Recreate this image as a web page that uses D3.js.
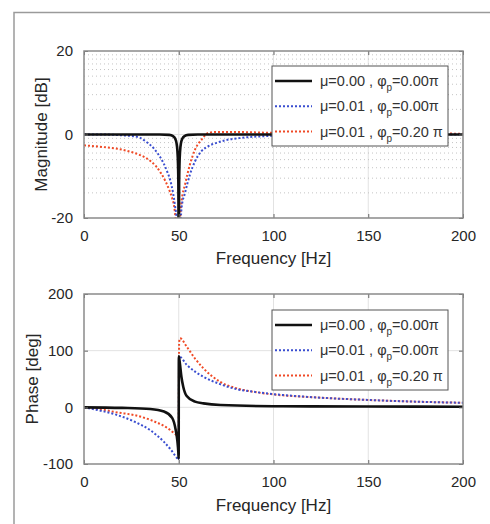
<!DOCTYPE html>
<html><head><meta charset="utf-8">
<script src="https://cdn.jsdelivr.net/npm/d3@7"></script>
<style>body{margin:0;background:#fff;}svg{display:block;}text{font-family:"Liberation Sans",Arial,sans-serif;}</style>
</head><body>
<script>
// ---------- data ----------
const xTicks = [0, 50, 100, 150, 200];
const magTicks = [-20, 0, 20];
const magMinorGrid = [-13.98, -10.46, -7.96, -6.02, -4.44, -3.10, -1.94, -0.92, 6.02, 9.54, 12.04, 13.98, 15.56, 16.90, 18.06, 19.08];
const phaseTicks = [-100, 0, 100, 200];
const seriesNames = ["μ=0.00 , φ|p|=0.00π", "μ=0.01 , φ|p|=0.00π", "μ=0.01 , φ|p|=0.20 π"];

// Magnitude [dB]
const magBlackF = [0, 40, 45, 47, 48, 48.8, 49.3, 49.6, 49.8, 50, 50.2, 50.4, 50.7, 51.2, 52, 53, 55, 60, 200];
const magBlackV = [0, 0, -0.1, -0.4, -0.9, -2, -4, -7, -12, -30, -12, -7, -4, -2, -0.9, -0.4, -0.1, 0, 0];
const magBlueF = [0, 10, 20, 26, 29.6, 33, 36.6, 39, 41.9, 44, 45.4, 47, 48, 49, 50, 51, 51.5, 53.3, 55.9, 58.6, 62, 65.6, 70, 74.4, 83, 95, 110, 130, 200];
const magBlueV = [0, 0, -0.2, -0.4, -0.8, -1.8, -3.2, -4.6, -6.8, -9, -10.8, -14, -17, -21, -35, -21, -17.5, -14, -9.6, -6.4, -4, -2.8, -2, -1.4, -0.8, -0.4, -0.2, 0, 0];
const magRedF = [0, 10, 17.6, 26.4, 30, 35.2, 38, 40.5, 43, 44.9, 46.5, 47.5, 48.3, 49.3, 50, 50.6, 51.5, 53.3, 55.9, 58.6, 62.1, 65.6, 70, 80, 100, 150, 200];
const magRedV = [-2.6, -3, -3.4, -4.4, -5, -6.4, -7.6, -9.2, -11.2, -13.2, -15.2, -17, -20, -25, -35, -22, -16, -12, -7.2, -3.6, -1.2, 0.4, 0.6, 0.6, 0.4, 0.3, 0.2];

// Phase [deg]
const phBlackF = [0, 20, 35, 42.2, 46.6, 48.4, 49.3, 49.8, 49.95, 50.05, 50.5, 51.4, 52.4, 54.2, 58.6, 63, 72, 100, 150, 200];
const phBlackV = [0, -1, -3, -7.5, -19, -40, -60, -80, -90, 90, 80, 54, 36, 20, 10, 7, 4, 2, 1.5, 1];
const phBlueF = [0, 8.8, 17.6, 26.4, 35.2, 42.2, 46.6, 49.2, 49.95, 50.2, 54.2, 58.6, 63, 71.8, 80.6, 89.3, 98, 125, 150, 175, 200];
const phBlueV = [0, -6, -13.6, -25, -41, -61, -78, -90, -92, 90, 75, 63, 54, 41, 32, 27.5, 24, 17, 13, 10, 8];
const phRedF = [0, 8.8, 17.6, 26.4, 35.2, 42.2, 46.6, 49.2, 49.95, 50.2, 50.7, 54.2, 58.6, 63, 71.8, 80.6, 89.3, 98, 125, 150, 175, 200];
const phRedV = [0, -3.5, -9, -13.6, -22.4, -33, -43, -52, -60, 115, 122, 107, 86, 69, 45, 33.5, 27.5, 23.5, 17, 13, 10, 8];

const colors = ["#111111", "#3a4ed0", "#f04a26"];
const dashes = [null, "2,2", "2,2"];
const widths = [2.6, 2, 2];

// ---------- drawing ----------
const W = 490, H = 524;
const svg = d3.select("body").append("svg").attr("width", W).attr("height", H);

svg.append("rect").attr("x", 14).attr("y", 12.5).attr("width", 500).attr("height", 540)
  .attr("fill", "none").attr("stroke", "#9a9a9a").attr("stroke-width", 1.5);

function panel(cfg) {
  const {top, bottom, left, right, yDomain, yTicks, minorGrid, majorYGrid, series, ylabel, ylabelX, xlabelY, id, legendY} = cfg;
  const x = d3.scaleLinear().domain([0, 200]).range([left, right]);
  const y = d3.scaleLinear().domain(yDomain).range([bottom, top]);
  const g = svg.append("g");
  const fmt = d => String(d);

  // grid
  g.selectAll(".vg").data(xTicks.slice(1, -1)).join("line")
    .attr("x1", d => x(d)).attr("x2", d => x(d)).attr("y1", top).attr("y2", bottom)
    .attr("stroke", "#e2e2e2").attr("stroke-width", 1);
  g.selectAll(".hg").data(majorYGrid).join("line")
    .attr("x1", left).attr("x2", right).attr("y1", d => y(d)).attr("y2", d => y(d))
    .attr("stroke", "#e2e2e2").attr("stroke-width", 1);
  g.selectAll(".mg").data(minorGrid).join("line")
    .attr("x1", left).attr("x2", right).attr("y1", d => y(d)).attr("y2", d => y(d))
    .attr("stroke", "#c4c4c4").attr("stroke-width", 1).attr("stroke-dasharray", "1,3");

  // clip
  svg.append("clipPath").attr("id", id).append("rect")
    .attr("x", left).attr("y", top).attr("width", right - left).attr("height", bottom - top);

  const line = d3.line().x(d => x(d[0])).y(d => y(d[1])).curve(d3.curveMonotoneX);
  const lg = g.append("g").attr("clip-path", `url(#${id})`);
  series.slice().reverse().forEach((s, ri) => {
    const i = series.length - 1 - ri;
    lg.append("path").datum(d3.zip(s[0], s[1])).attr("d", line)
      .attr("fill", "none").attr("stroke", colors[i]).attr("stroke-width", widths[i])
      .attr("stroke-dasharray", dashes[i]).attr("stroke-linejoin", "round");
  });

  // axes (box with inward ticks)
  const ax = g.append("g").attr("transform", `translate(0,${bottom})`)
    .call(d3.axisBottom(x).tickValues(xTicks).tickFormat(fmt).tickSizeInner(-4).tickSizeOuter(0).tickPadding(12));
  const axTop = g.append("g").attr("transform", `translate(0,${top})`)
    .call(d3.axisTop(x).tickValues(xTicks).tickSizeInner(-4).tickSizeOuter(0).tickFormat(""));
  const ay = g.append("g").attr("transform", `translate(${left},0)`)
    .call(d3.axisLeft(y).tickValues(yTicks).tickFormat(fmt).tickSizeInner(-4).tickSizeOuter(0).tickPadding(11));
  const ayR = g.append("g").attr("transform", `translate(${right},0)`)
    .call(d3.axisRight(y).tickValues(yTicks).tickSizeInner(-4).tickSizeOuter(0).tickFormat(""));
  [ax, axTop, ay, ayR].forEach(a => {
    a.select(".domain").remove();
    a.selectAll(".tick line").attr("stroke", "#666");
    a.selectAll("text").attr("font-size", 15).attr("fill", "#262626")
      .attr("font-family", "'Liberation Sans',Arial,sans-serif");
  });
  g.append("rect").attr("x", left).attr("y", top).attr("width", right - left).attr("height", bottom - top)
    .attr("fill", "none").attr("stroke", "#8a8a8a").attr("stroke-width", 1.5);

  // labels
  g.append("text").attr("x", (left + right) / 2).attr("y", xlabelY).attr("text-anchor", "middle")
    .attr("font-size", 17).attr("fill", "#262626").text("Frequency [Hz]");
  g.append("text").attr("transform", `translate(${ylabelX},${(top + bottom) / 2}) rotate(-90)`)
    .attr("text-anchor", "middle").attr("font-size", 17).attr("fill", "#262626").text(ylabel);

  // legend
  const lx = 272, lw = 176, lh = 80;
  const leg = g.append("g").attr("transform", `translate(${lx},${legendY})`);
  leg.append("rect").attr("width", lw).attr("height", lh).attr("fill", "#fff")
    .attr("stroke", "#555").attr("stroke-width", 1);
  seriesNames.forEach((name, i) => {
    const yy = 15 + i * 25.3;
    leg.append("line").attr("x1", 3).attr("x2", 40).attr("y1", yy).attr("y2", yy)
      .attr("stroke", colors[i]).attr("stroke-width", widths[i]).attr("stroke-dasharray", dashes[i]);
    const parts = name.split("|");
    const t = leg.append("text").attr("x", 48).attr("y", yy + 5).attr("font-size", 14.5).attr("fill", "#333");
    t.append("tspan").text(parts[0]);
    t.append("tspan").attr("font-size", 10).attr("dy", 5).text(parts[1]);
    t.append("tspan").attr("dy", -5).text(parts[2]);
  });
}

panel({top: 51, bottom: 218, left: 84, right: 463, yDomain: [-20, 20], yTicks: magTicks,
  minorGrid: magMinorGrid, majorYGrid: [0], id: "clipMag", legendY: 66,
  series: [[magBlackF, magBlackV], [magBlueF, magBlueV], [magRedF, magRedV]],
  ylabel: "Magnitude [dB]", ylabelX: 47, xlabelY: 264});

panel({top: 294, bottom: 464, left: 84, right: 463, yDomain: [-100, 200], yTicks: phaseTicks,
  minorGrid: [], majorYGrid: [0, 100], id: "clipPh", legendY: 310,
  series: [[phBlackF, phBlackV], [phBlueF, phBlueV], [phRedF, phRedV]],
  ylabel: "Phase [deg]", ylabelX: 38, xlabelY: 511});
</script>
</body></html>
